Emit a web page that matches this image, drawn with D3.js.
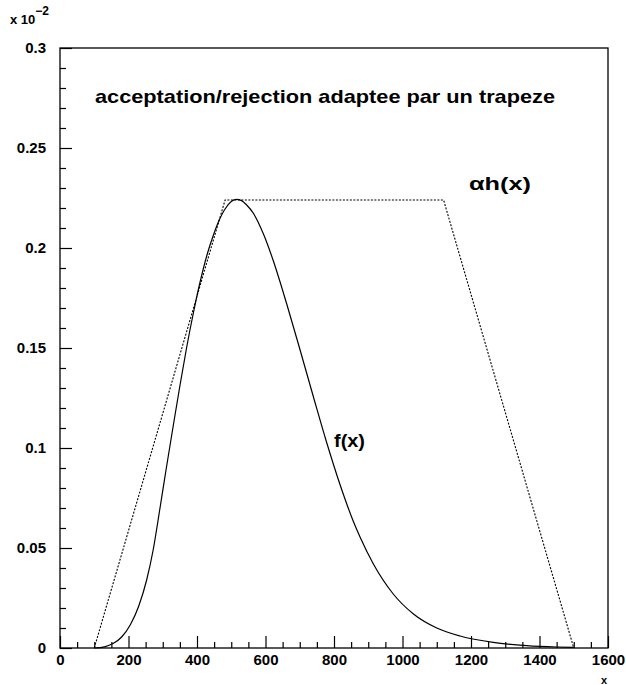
<!DOCTYPE html>
<html><head><meta charset="utf-8">
<script src="https://cdn.jsdelivr.net/npm/d3@7"></script>
<style>body{margin:0;background:#fff}svg{display:block}</style>
</head><body>
<script>
// Data (y values in units of 10^-2)
const fX = [100,130,155,180,205,230,253,272,292,310,331,350,370,390,409,430,448,465,480,500,515,530,545,564,594,623,662,701,740,779,818,856,876,915,973,1032,1100,1168,1265,1362,1450,1500];
const fY = [0,0.0006,0.0022,0.0055,0.0115,0.021,0.034,0.049,0.070,0.0895,0.1115,0.131,0.1505,0.168,0.183,0.197,0.2065,0.214,0.219,0.2232,0.2243,0.2237,0.2215,0.2175,0.207,0.1935,0.172,0.149,0.1255,0.1025,0.0815,0.0635,0.0555,0.042,0.027,0.017,0.010,0.006,0.0028,0.0012,0.0005,0.0003];
const trapX = [100,482,1120,1500];
const trapY = [0,0.224,0.224,0];
const xTicks = [0,200,400,600,800,1000,1200,1400,1600];
const yTicks = [0,0.05,0.1,0.15,0.2,0.25,0.3];
const yTickLabels = ["0","0.05","0.1","0.15","0.2","0.25","0.3"];
const title = "acceptation/rejection adaptee par un trapeze";

const W=626,H=685;
const L=60,R=608,T=48,B=648;
const svg=d3.select("body").append("svg").attr("width",W).attr("height",H);
const x=d3.scaleLinear().domain([0,1600]).range([L,R]);
const y=d3.scaleLinear().domain([0,0.3]).range([B,T]);
const font="'Liberation Sans', Arial, sans-serif";

// frame
svg.append("rect").attr("x",L).attr("y",T).attr("width",R-L).attr("height",B-T)
  .attr("fill","none").attr("stroke","#000").attr("stroke-width",1.3);

// x axis
const xa=svg.append("g").attr("transform",`translate(0,${B})`)
  .call(d3.axisBottom(x).tickValues(d3.range(0,1601,50)).tickSize(-6).tickFormat(""));
xa.select(".domain").remove();
xa.selectAll(".tick line").attr("stroke","#000").attr("stroke-width",1.2)
  .attr("y2",d=>d%200===0?-12:-6);
const xl=svg.append("g").attr("transform",`translate(0,${B})`)
  .call(d3.axisBottom(x).tickValues(xTicks).tickSize(0).tickPadding(6).tickFormat(d3.format("d")));
xl.select(".domain").remove();
xl.selectAll("text").attr("font-family",font).attr("font-weight","bold").attr("font-size",15).attr("fill","#000");

// y axis
const ya=svg.append("g").attr("transform",`translate(${L},0)`)
  .call(d3.axisLeft(y).tickValues(d3.range(0,31).map(i=>i/100)).tickSize(-6).tickFormat(""));
ya.select(".domain").remove();
ya.selectAll(".tick line").attr("stroke","#000").attr("stroke-width",1.2)
  .attr("x2",(d,i)=>i%5===0?12:6);
const yl=svg.append("g").attr("transform",`translate(${L},0)`)
  .call(d3.axisLeft(y).tickValues(yTicks).tickSize(0).tickPadding(14).tickFormat((d,i)=>yTickLabels[i]));
yl.select(".domain").remove();
yl.selectAll("text").attr("font-family",font).attr("font-weight","bold").attr("font-size",15).attr("fill","#000");

// exponent label
const ex=svg.append("text").attr("x",10).attr("y",24).attr("font-family",font).attr("font-weight","bold").attr("fill","#000");
ex.append("tspan").attr("font-size",13).text("x 10");
ex.append("tspan").attr("font-size",12).attr("dy",-9).text("−2");

// x axis title
svg.append("text").attr("x",604).attr("y",684).attr("text-anchor","middle").attr("font-family",font)
  .attr("font-weight","bold").attr("font-size",11).text("x");

// title
svg.append("text").attr("x",95).attr("y",103).attr("font-family",font).attr("font-weight","bold")
  .attr("font-size",19).attr("textLength",460).attr("lengthAdjust","spacingAndGlyphs").text(title);

// trapezoid
svg.append("path").datum(trapX.map((d,i)=>[d,trapY[i]]))
  .attr("d",d3.line().x(d=>x(d[0])).y(d=>y(d[1])))
  .attr("fill","none").attr("stroke","#000").attr("stroke-width",1.1).attr("stroke-dasharray","2,1.5");

// f(x)
svg.append("path").datum(fX.map((d,i)=>[d,fY[i]]))
  .attr("d",d3.line().curve(d3.curveMonotoneX).x(d=>x(d[0])).y(d=>y(d[1])))
  .attr("fill","none").attr("stroke","#000").attr("stroke-width",1.2);

// labels
svg.append("text").attr("x",469).attr("y",190).attr("font-family",font).attr("font-weight","bold")
  .attr("font-size",19).attr("textLength",62).attr("lengthAdjust","spacingAndGlyphs").text("αh(x)");
svg.append("text").attr("x",334).attr("y",447).attr("font-family",font).attr("font-weight","bold")
  .attr("font-size",19).attr("textLength",31).attr("lengthAdjust","spacingAndGlyphs").text("f(x)");
</script>
</body></html>
